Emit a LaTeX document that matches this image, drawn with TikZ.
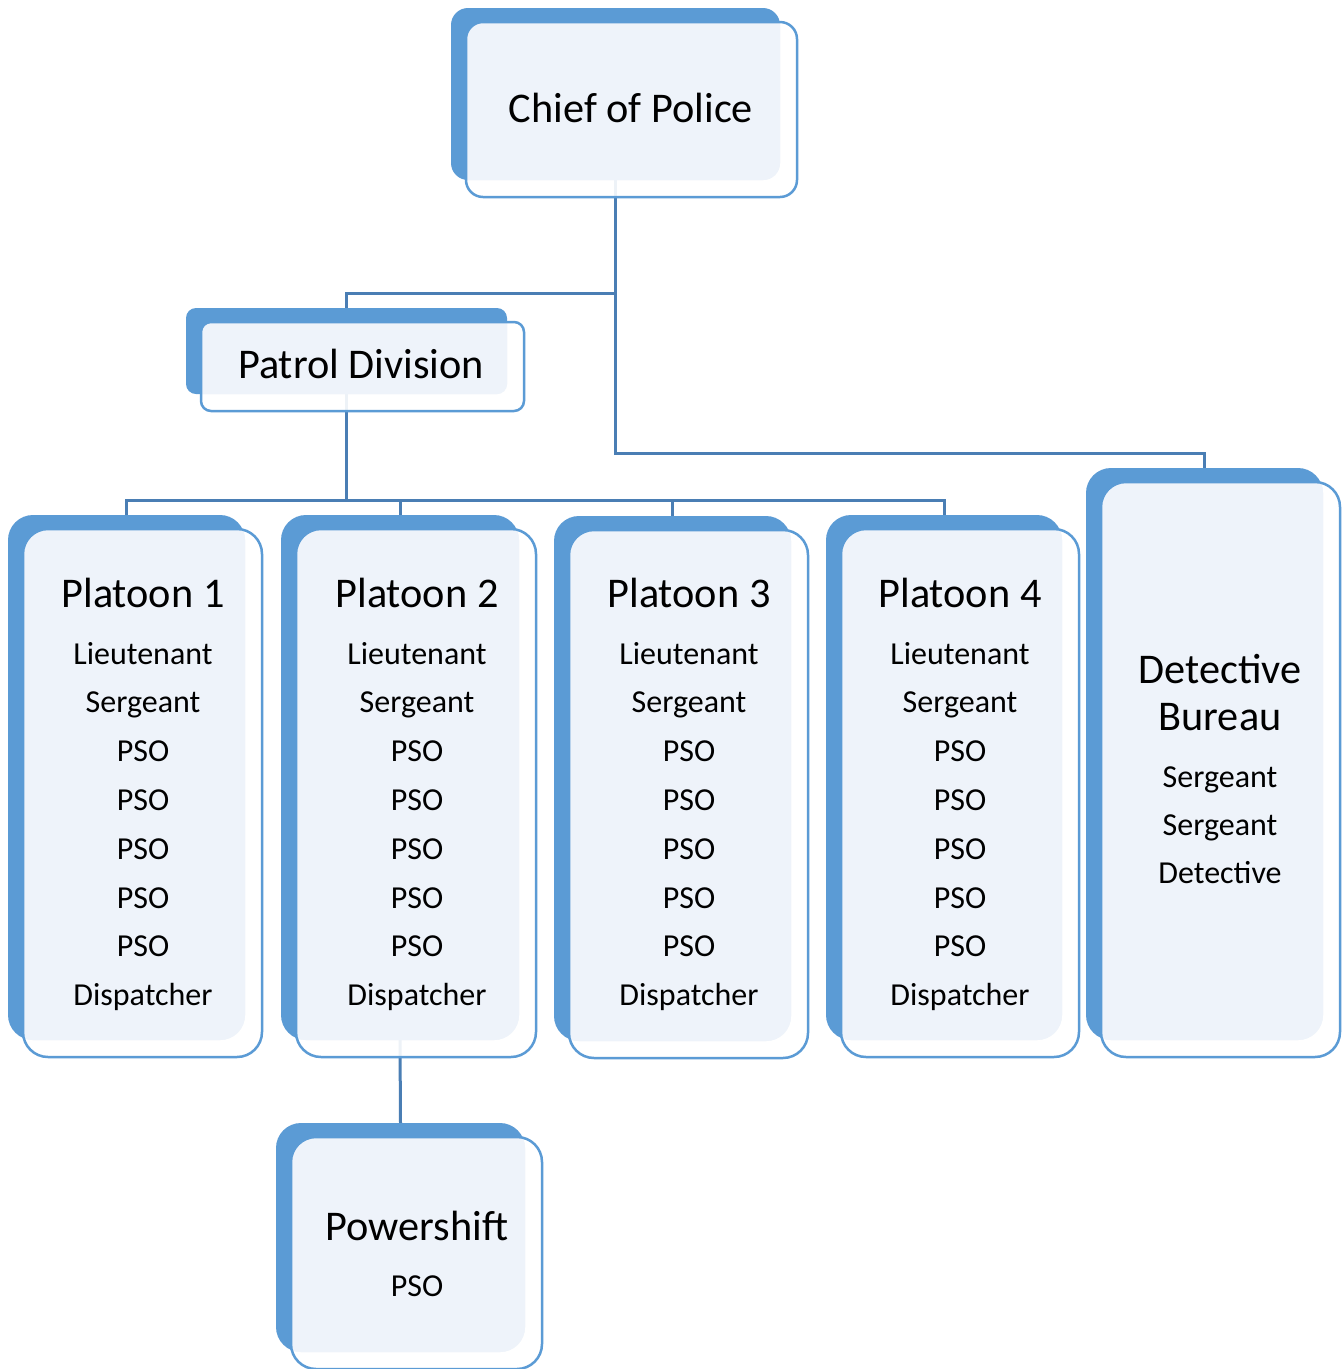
\documentclass[tikz,border=0pt]{standalone}
\usepackage{fontspec}
\setmainfont{Carlito}
\usetikzlibrary{fit,backgrounds}
\definecolor{boxblue}{HTML}{5B9BD5}
\definecolor{boxfill}{HTML}{EEF3FA}
\definecolor{linkblue}{HTML}{4A7EB4}
\tikzset{
  link/.style={draw=linkblue, line width=3pt},
  frontline/.style={draw=boxblue, line width=2.5pt},
  titletext/.style={anchor=base, inner sep=0pt, font=\fontsize{42.3}{48}\selectfont},
  itemtext/.style={anchor=base, inner sep=0pt, font=\fontsize{32}{36}\selectfont},
}
\newcommand\orgbox[6]{%
  \coordinate (#1-a) at (#2,#3);
  \coordinate (#1-b) at (#4,#5);
  \coordinate (#1-c) at (#2+15,#3+14);
  \coordinate (#1-d) at (#4+17,#5+17);
  \fill[boxblue, rounded corners=#6] (#1-a) rectangle (#1-b);
  \fill[white, opacity=0.9, rounded corners=#6] (#1-c) rectangle (#1-d);
  \begin{scope}
    \clip[rounded corners=#6] (#1-a) rectangle (#1-b);
    \fill[boxfill, rounded corners=#6] (#1-c) rectangle (#1-d);
  \end{scope}
  \draw[frontline, rounded corners=#6] (#1-c) rectangle (#1-d);
  \node[fit=(#1-a)(#1-b), inner sep=0pt] (#1) {};
}
\begin{document}
\begin{tikzpicture}[x=1pt, y=-1pt]
\useasboundingbox (0,0) rectangle (1344,1369);
% boxes
\orgbox{chief}{451}{8}{780}{180}{17}
\orgbox{patrol}{186}{308}{507}{394}{10}
\orgbox{p1}{8}{515}{245}{1040}{25}
\orgbox{p2}{281}{515}{519}{1040}{25}
\orgbox{p3}{554}{516}{791}{1041}{25}
\orgbox{p4}{826}{515}{1062}{1040}{25}
\orgbox{det}{1086}{468}{1323}{1040}{25}
\orgbox{ps}{276}{1123}{525}{1352}{25}
% junctions
\coordinate (j1) at (615.5,293);
\coordinate (j2) at (615.5,453);
\coordinate (j3) at (346.5,500);
\begin{pgfonlayer}{background}
  \fill[white] (0,0) rectangle (1344,1369);
  \draw[link] (chief.south) -- (j2) -| (det.north);
  \draw[link] (j1) -| (patrol.north);
  \draw[link] (patrol.south) -- (j3);
  \draw[link] (p1.north) |- (j3) -| (p4.north);
  \draw[link] (p2.north) -- (p2.north |- j3);
  \draw[link] (p3.north) -- (p3.north |- j3);
  \draw[link] (p2.south) -- (ps.north);
\end{pgfonlayer}
% texts
\node[titletext] (t-chief) at (631,122) {Chief of Police};
\node[titletext] (t-patrol) at (361,378) {Patrol Division};
\foreach \n/\cx in {1/143, 2/417, 3/689, 4/960}{
  \node[titletext] (t-p\n) at (\cx,607) {Platoon \n};
  \foreach \lab [count=\k from 0] in {Lieutenant,Sergeant,PSO,PSO,PSO,PSO,PSO,Dispatcher}{
    \node[itemtext] (t-p\n-\k) at (\cx,664+48.8*\k) {\lab};
  }
}
\node[titletext] (t-det1) at (1220,683) {Detective};
\node[titletext] (t-det2) at (1220,730) {Bureau};
\node[itemtext] (t-det3) at (1220,787) {Sergeant};
\node[itemtext] (t-det4) at (1220,835) {Sergeant};
\node[itemtext] (t-det5) at (1220,883) {Detective};
\node[titletext] (t-ps1) at (417,1240) {Powershift};
\node[itemtext] (t-ps2) at (417,1296) {PSO};
\end{tikzpicture}
\end{document}
